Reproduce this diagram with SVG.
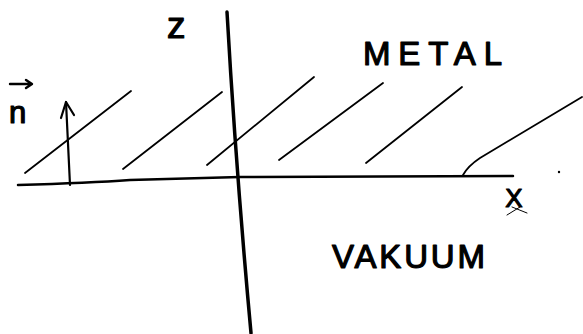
<svg xmlns="http://www.w3.org/2000/svg" width="583" height="334" viewBox="0 0 583 334">
<style>
.ln{fill:none;stroke:#000;stroke-linecap:round;stroke-linejoin:round}
.hatch{stroke-width:1.8}
.lbl{font-family:"Liberation Sans",Arial,sans-serif;fill:#000;stroke:#000;stroke-width:1.2;stroke-linejoin:round}
</style>
<rect width="583" height="334" fill="#fff"/>
<g id="connectors">
  <path id="z-axis" class="ln" stroke-width="3.5" d="M227,12 Q236,170 251,333"/>
  <path id="x-axis" class="ln" stroke-width="2.5" d="M18,185 Q90,183 130,180 L240,177 L513,176"/>
  <g id="hatching" class="ln hatch">
    <path d="M25,173 L131,91"/>
    <path d="M123,169 L222,92"/>
    <path d="M207,165 L314,77"/>
    <path d="M279,160 L383,83"/>
    <path d="M366,163 L462,87"/>
    <path d="M463,175 Q468,166 480,158 L582,97"/>
  </g>
  <g id="normal-arrow" class="ln" stroke-width="2.2">
    <path d="M70,185 L66,102"/>
    <path d="M61,118 L66,102 L74,115"/>
  </g>
</g>
<g id="label-z"><text class="lbl" x="167" y="38" font-size="37">z</text></g>
<g id="label-n">
  <text class="lbl" x="9" y="123" font-size="31">n</text>
  <path class="ln" stroke-width="2.4" d="M10,84 L31,84 M26,80 L32,84 L26,88"/>
</g>
<g id="label-metal"><text class="lbl" x="363" y="65" font-size="33" textLength="139" lengthAdjust="spacing">METAL</text></g>
<g id="label-vakuum"><text class="lbl" x="332" y="268" font-size="33" textLength="153" lengthAdjust="spacing">VAKUUM</text></g>
<g id="label-x">
  <text class="lbl" x="514" y="207" font-size="26" text-anchor="middle" stroke-width="1.8">X</text>
  <path class="ln" stroke-width="1" d="M507,215 L520,207 M512,207 L527,213"/>
</g>
<circle cx="559" cy="172" r="1.2" fill="#000"/>
</svg>
